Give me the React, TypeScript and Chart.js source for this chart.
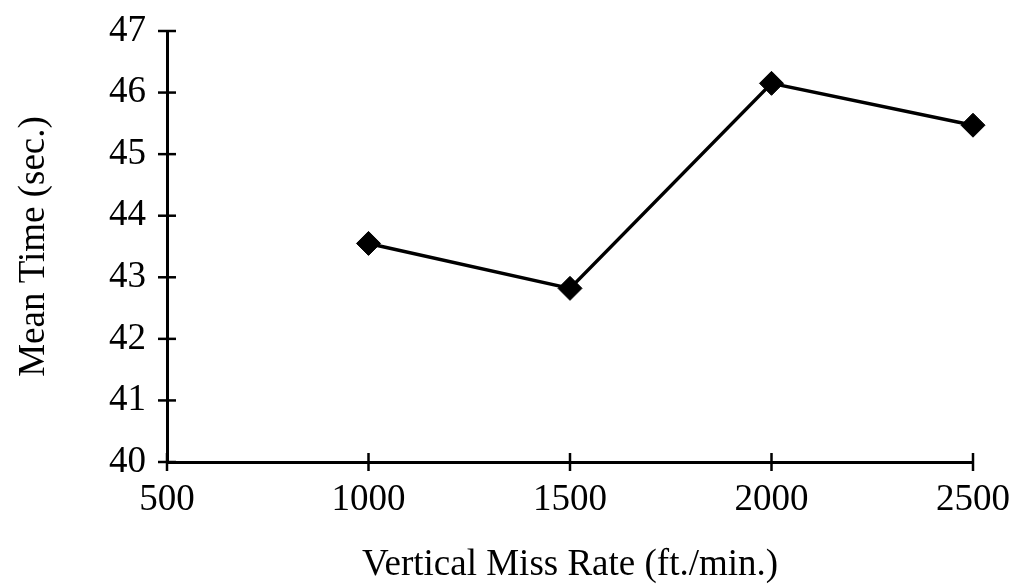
import React, { useEffect, useRef } from "react";
import { Chart, registerables } from "chart.js";

Chart.register(...registerables);

const missRates = [1000, 1500, 2000, 2500];
const meanTimes = [43.55, 42.82, 46.15, 45.47];
const xTicks = [500, 1000, 1500, 2000, 2500];
const yTicks = [40, 41, 42, 43, 44, 45, 46, 47];
const xTitle = "Vertical Miss Rate (ft./min.)";
const yTitle = "Mean Time (sec.)";

const FONT = "'Liberation Serif', 'Times New Roman', serif";

const crossTicks = {
  id: "crossTicks",
  afterDraw(chart: any) {
    const ctx = chart.ctx;
    const xs = chart.scales.x;
    const ys = chart.scales.y;
    const half = 9;
    ctx.save();
    ctx.strokeStyle = "#000";
    ctx.lineWidth = 2.5;
    xs.ticks.forEach((t: any) => {
      const px = xs.getPixelForValue(t.value);
      ctx.beginPath();
      ctx.moveTo(px, chart.chartArea.bottom - half);
      ctx.lineTo(px, chart.chartArea.bottom + half);
      ctx.stroke();
    });
    ys.ticks.forEach((t: any) => {
      const py = ys.getPixelForValue(t.value);
      ctx.beginPath();
      ctx.moveTo(chart.chartArea.left - half, py);
      ctx.lineTo(chart.chartArea.left + half, py);
      ctx.stroke();
    });
    ctx.restore();
  },
};

export default function App() {
  const ref = useRef<HTMLCanvasElement>(null);
  useEffect(() => {
    if (!ref.current) return;
    const chart = new Chart(ref.current, {
      type: "line",
      data: {
        datasets: [
          {
            data: missRates.map((x, i) => ({ x, y: meanTimes[i] })),
            borderColor: "#000",
            backgroundColor: "#000",
            borderWidth: 3.5,
            pointStyle: "rectRot",
            pointRadius: 12,
            pointBorderWidth: 1,
            pointBackgroundColor: "#000",
            pointBorderColor: "#000",
            tension: 0,
            clip: false,
          },
        ],
      },
      options: {
        animation: false,
        responsive: false,
        maintainAspectRatio: false,
        layout: { padding: { top: 31, right: 37, left: 0, bottom: 0 } },
        plugins: { legend: { display: false }, tooltip: { enabled: false } },
        scales: {
          x: {
            type: "linear",
            min: 500,
            max: 2500,
            afterBuildTicks: (s: any) => {
              s.ticks = xTicks.map((v) => ({ value: v }));
            },
            afterFit: (s: any) => {
              s.height = 123;
              s.paddingLeft = 0;
              s.paddingRight = 0;
            },
            grid: { display: false, drawTicks: false },
            border: { display: true, color: "#000", width: 3 },
            ticks: {
              color: "#000",
              font: { family: FONT, size: 37 },
              padding: 16,
              maxRotation: 0,
              autoSkip: false,
              callback: (v: any) => String(v),
            },
            title: {
              display: true,
              text: xTitle,
              color: "#000",
              font: { family: FONT, size: 37 },
              padding: { top: 0, bottom: -2 },
            },
          },
          y: {
            type: "linear",
            min: 40,
            max: 47,
            afterBuildTicks: (s: any) => {
              s.ticks = yTicks.map((v) => ({ value: v }));
            },
            afterFit: (s: any) => {
              s.width = 167;
              s.paddingTop = 0;
              s.paddingBottom = 0;
            },
            grid: { display: false, drawTicks: false },
            border: { display: true, color: "#000", width: 3 },
            ticks: {
              color: "#000",
              font: { family: FONT, size: 37 },
              padding: 21,
              autoSkip: false,
              callback: (v: any) => String(v),
            },
            title: {
              display: true,
              text: yTitle,
              color: "#000",
              font: { family: FONT, size: 37 },
              padding: { top: 12, bottom: 0 },
            },
          },
        },
      },
      plugins: [crossTicks],
    });
    return () => chart.destroy();
  }, []);
  return (
    <div style={{ position: "fixed", left: 0, top: 0, width: 1010, height: 585, background: "#fff" }}>
      <canvas ref={ref} width={1010} height={585} style={{ width: 1010, height: 585, display: "block" }} />
    </div>
  );
}
